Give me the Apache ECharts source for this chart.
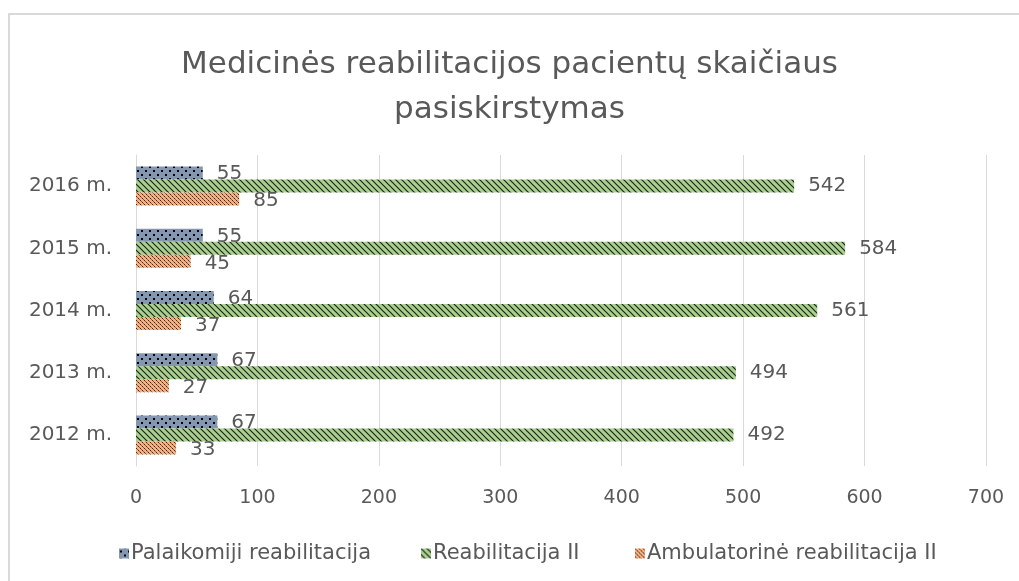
<!DOCTYPE html>
<html>
<head>
<meta charset="utf-8">
<script src="https://cdn.jsdelivr.net/npm/echarts@6/dist/echarts.min.js"></script>
<style>
  html, body { margin: 0; padding: 0; background: #fff; }
  #frame { position: absolute; left: 8px; top: 13px; width: 1030px; height: 600px; border: 2px solid #d9d9d9; box-sizing: border-box; }
  #chart { position: absolute; left: 0; top: 0; width: 1019px; height: 581px; }
</style>
</head>
<body>
<div id="frame"></div>
<div id="chart"></div>
<script>
var years = ['2012 m.', '2013 m.', '2014 m.', '2015 m.', '2016 m.'];
var palaikomiji = [67, 67, 64, 55, 55];
var reabilitacija2 = [492, 494, 561, 584, 542];
var ambulatorine = [33, 27, 37, 45, 85];
var xTicks = [0, 100, 200, 300, 400, 500, 600, 700];
var seriesNames = ['Palaikomiji reabilitacija', 'Reabilitacija II', 'Ambulatorinė reabilitacija II'];

var font = 'DejaVu Sans';
var txtColor = '#595959';

// raštai stulpeliams
function makePattern(size, bg, draw) {
  var c = document.createElement('canvas');
  c.width = size;
  c.height = size;
  var ctx = c.getContext('2d');
  ctx.fillStyle = bg;
  ctx.fillRect(0, 0, size, size);
  draw(ctx);
  return { image: c, repeat: 'repeat' };
}

var dotsPattern = makePattern(8, '#8497b0', function (ctx) {
  ctx.fillStyle = '#000';
  ctx.fillRect(1, 2, 2, 2);
  ctx.fillRect(5, 6, 2, 2);
});

var stripePattern = makePattern(6, '#a9d18e', function (ctx) {
  ctx.strokeStyle = '#222';
  ctx.lineWidth = 1.2;
  ctx.beginPath();
  ctx.moveTo(-1, -1); ctx.lineTo(7, 7);
  ctx.moveTo(-4, 2); ctx.lineTo(2, 8);
  ctx.moveTo(2, -4); ctx.lineTo(8, 2);
  ctx.stroke();
});

var weavePattern = makePattern(4, '#f4b183', function (ctx) {
  ctx.fillStyle = 'rgba(50,25,10,0.9)';
  ctx.fillRect(0, 0, 1, 1);
  ctx.fillRect(2, 2, 1, 1);
  ctx.fillStyle = 'rgba(110,55,20,0.7)';
  ctx.fillRect(1, 1, 1, 1);
  ctx.fillRect(3, 3, 1, 1);
});

var chart = echarts.init(document.getElementById('chart'));

var labelStyle = {
  show: true,
  position: 'right',
  distance: 14,
  fontFamily: font,
  fontSize: 20,
  color: txtColor
};

// legenda - kiekvienas įrašas atskirai, kaip Excel'yje
var legendLefts = [114, 416, 630];
var legends = seriesNames.map(function (name, i) {
  return {
    left: legendLefts[i],
    top: 538,
    itemWidth: 10,
    itemHeight: 10,
    icon: 'rect',
    textStyle: { fontFamily: font, fontSize: 21, color: txtColor, padding: [0, 0, 0, -3] },
    data: [name]
  };
});

var option = {
  backgroundColor: 'transparent',
  animation: false,
  title: {
    text: 'Medicinės reabilitacijos pacientų skaičiaus\npasiskirstymas',
    left: 'center',
    top: 37,
    textStyle: {
      fontFamily: font,
      fontWeight: 'normal',
      fontSize: 31,
      lineHeight: 45,
      color: txtColor
    }
  },
  legend: legends,
  grid: {
    left: 136,
    right: 33,
    top: 155,
    bottom: 115
  },
  xAxis: {
    type: 'value',
    min: 0,
    max: 700,
    interval: 100,
    axisLine: { show: false },
    axisTick: { show: false },
    splitLine: { lineStyle: { color: '#d9d9d9', width: 1 } },
    axisLabel: {
      margin: 23,
      fontFamily: font,
      fontSize: 19,
      color: txtColor,
      formatter: function (v) { return xTicks.indexOf(v) >= 0 ? String(v) : ''; }
    }
  },
  yAxis: {
    type: 'category',
    data: years,
    axisLine: { show: true, lineStyle: { color: '#d9d9d9' } },
    axisTick: { show: false },
    axisLabel: {
      margin: 24,
      fontFamily: font,
      fontSize: 20,
      color: txtColor
    }
  },
  series: [
    {
      name: seriesNames[0],
      type: 'bar',
      data: palaikomiji,
      barWidth: 13,
      barGap: '0%',
      itemStyle: { color: dotsPattern },
      label: Object.assign({}, labelStyle, { offset: [0, 1] })
    },
    {
      name: seriesNames[1],
      type: 'bar',
      data: reabilitacija2,
      barWidth: 13,
      barGap: '0%',
      itemStyle: { color: stripePattern },
      label: labelStyle
    },
    {
      name: seriesNames[2],
      type: 'bar',
      data: ambulatorine,
      barWidth: 13,
      barGap: '0%',
      itemStyle: { color: weavePattern },
      label: Object.assign({}, labelStyle, { offset: [0, 2] })
    }
  ]
};

chart.setOption(option);
</script>
</body>
</html>
